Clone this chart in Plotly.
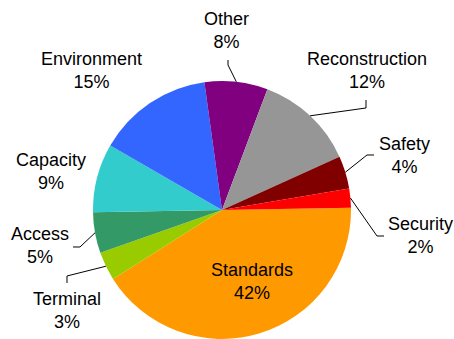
import math
import plotly.graph_objects as go

# ---- data ----
categories = ["Standards", "Terminal", "Access", "Capacity", "Environment",
              "Other", "Reconstruction", "Safety", "Security"]
shares = [41.3, 3.6, 5.1, 8.6, 14.5, 7.9, 12.5, 4.1, 2.4]          # slice sizes
pct_labels = ["42%", "3%", "5%", "9%", "15%", "8%", "12%", "4%", "2%"]  # printed labels
colors = ["#FF9900", "#99CC00", "#339966", "#33CCCC", "#3366FF",
          "#800080", "#969696", "#800000", "#FF0000"]

# ---- layout constants (pixels) ----
W, H = 454, 339
ML, MR, MT, MB = 93, 103, 81, 0
PW, PH = W - ML - MR, H - MT - MB
CX, CY, R = ML + PW / 2, MT + PH / 2, min(PW, PH) / 2
ROT = 89.0
FONT = "Liberation Sans, Arial, sans-serif"


def px(x):
    return (x - ML) / PW


def py(y):
    return (H - MB - y) / PH


fig = go.Figure(go.Pie(
    labels=categories, values=shares, sort=False, direction="clockwise",
    rotation=ROT, marker=dict(colors=colors, line=dict(width=0)),
    textinfo="none", hoverinfo="label+percent", showlegend=False,
))

# label placement (pixel centres) and leader-line elbows
label_pos = {
    "Standards": (252, 281), "Terminal": (67, 310), "Access": (40, 245),
    "Capacity": (51, 171), "Environment": (91, 71), "Other": (226, 30),
    "Reconstruction": (367, 71), "Safety": (404, 155), "Security": (420, 235),
}
leaders = {
    "Other": [(228, 60), (228, 65)],
    "Reconstruction": [(366, 100), (366, 108)],
    "Safety": [(374, 155), (367, 155)],
    "Security": [(384, 236), (377, 236)],
    "Access": [(73, 247), (80, 247)],
    "Terminal": [(67, 283), (67, 276)],
}

total = sum(shares)
cum = 0.0
for cat, v, pct in zip(categories, shares, pct_labels):
    mid = math.radians(ROT + 360 * (cum + v / 2) / total)
    cum += v
    ex, ey = CX + R * math.sin(mid), CY - R * math.cos(mid)
    lx, ly = label_pos[cat]
    fig.add_annotation(x=px(lx), y=py(ly), xref="paper", yref="paper",
                       text=f"{cat}<br>{pct}", showarrow=False,
                       xanchor="center", yanchor="middle",
                       font=dict(family=FONT, size=18, color="#000000"))
    if cat in leaders:
        pts = leaders[cat] + [(ex, ey)]
        path = "M " + " L ".join(f"{px(a):.5f},{py(b):.5f}" for a, b in pts)
        fig.add_shape(type="path", path=path, xref="paper", yref="paper",
                      line=dict(color="#000000", width=1))

fig.update_layout(
    width=W, height=H,
    margin=dict(l=ML, r=MR, t=MT, b=MB, pad=0),
    paper_bgcolor="white", plot_bgcolor="white",
    font=dict(family=FONT, size=18, color="#000000"),
)

fig.write_html("out.html",
               config={"displayModeBar": False},
               post_script="document.body.style.margin='0px';"
                           "document.body.style.overflow='hidden';")
